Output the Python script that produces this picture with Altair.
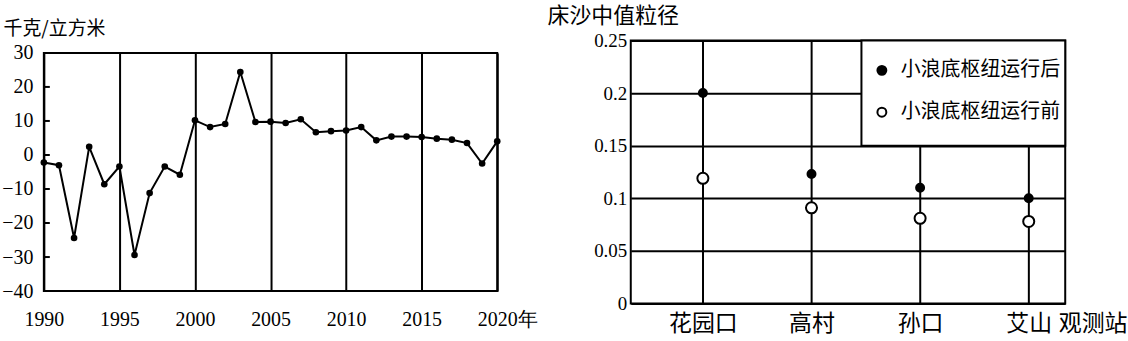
import altair as alt
import pandas as pd

# ---------------- data ----------------
years = list(range(1990, 2021))
density = [-2.2, -3.0, -24.4, 2.4, -8.6, -3.4, -29.4, -11.2, -3.4, -5.8,
           10.2, 8.2, 9.1, 24.4, 9.7, 9.8, 9.4, 10.5, 6.7, 7.0,
           7.2, 8.2, 4.3, 5.4, 5.4, 5.3, 4.8, 4.5, 3.5, -2.5, 4.0]
year_ticks = [1990, 1995, 2000, 2005, 2010, 2015, 2020]
density_ticks = [-40, -30, -20, -10, 0, 10, 20, 30]
inner_ticks = [-30, -20, -10, 0, 10, 20]

stations = ["花园口", "高村", "孙口", "艾山"]
after = [0.2, 0.123, 0.11, 0.1]
before = [0.119, 0.091, 0.081, 0.078]
series = ["小浪底枢纽运行后", "小浪底枢纽运行前"]
size_ticks = [0, 0.05, 0.1, 0.15, 0.2, 0.25]

SERIF = "Liberation Serif"
CJK = "Noto Sans CJK SC"

df_left = pd.DataFrame({"year": years, "value": density})
df_ticks = pd.DataFrame({"value": inner_ticks})
df_right = pd.DataFrame({
    "station": stations * 2,
    "series": [series[0]] * len(stations) + [series[1]] * len(stations),
    "value": after + before,
})

# ---------------- left chart ----------------
x_left = alt.X(
    "year:Q",
    scale=alt.Scale(domain=[1990, 2020], nice=False, zero=False),
    axis=alt.Axis(
        values=year_ticks, format="d",
        labelExpr="datum.value == 2020 ? '2020年' : datum.label",
        labelOffset={"condition": {"test": "datum.value == 2020", "value": 10}, "value": 0},
        grid=True, labelPadding=19, title=None, labelFont=SERIF,
    ),
)
y_left = alt.Y(
    "value:Q",
    scale=alt.Scale(domain=[-40, 30], nice=False, zero=False),
    axis=alt.Axis(
        values=density_ticks, format="d", grid=False, labelPadding=11,
        labelFont=SERIF,
        title="千克/立方米", titleAngle=0, titleX=-41, titleY=-24,
        titleAlign="left", titleBaseline="middle", titleFontSize=19,
    ),
)
line_l = alt.Chart(df_left).mark_line(color="black", strokeWidth=2).encode(x=x_left, y=y_left)
pts_l = alt.Chart(df_left).mark_circle(color="black", size=44, opacity=1).encode(
    x=x_left, y=y_left)
ticks_l = alt.Chart(df_ticks).mark_rule(color="black", strokeWidth=2).encode(
    y=y_left, x=alt.value(0), x2=alt.value(6))
left = alt.layer(line_l, pts_l, ticks_l).properties(width=455, height=239)

# ---------------- right chart ----------------
x_right = alt.X(
    "station:N", sort=stations,
    scale=alt.Scale(type="point", paddingOuter=0.762, align=0.664),
    axis=alt.Axis(
        grid=True, labelAngle=0, labelFont=CJK, labelFontSize=23, labelPadding=9,
        title="观测站", titleX=429, titleY=9, titleAlign="left", titleBaseline="top",
        titleFontSize=23,
    ),
)
y_right = alt.Y(
    "value:Q",
    scale=alt.Scale(domain=[0, 0.25], nice=False, zero=True),
    axis=alt.Axis(
        values=size_ticks, format="~g", grid=True, labelFontSize=19, labelPadding=4,
        labelFont=SERIF,
        title="床沙中值粒径", titleAngle=0, titleX=-84, titleY=-25,
        titleAlign="left", titleBaseline="middle", titleFontSize=22,
    ),
)
box = alt.Chart(pd.DataFrame({"a": [0]})).mark_rect(
    fill="white", stroke="black", strokeWidth=2, opacity=1).encode(
    x=alt.value(231.5), x2=alt.value(436), y=alt.datum(0.25), y2=alt.datum(0.15))
pts_r = alt.Chart(df_right).mark_point(
    shape="circle", filled=True, stroke="black", strokeWidth=2, opacity=1).encode(
    x=x_right, y=y_right,
    fill=alt.Fill("series:N", scale=alt.Scale(domain=series, range=["black", "white"]),
                  legend=alt.Legend(
                      title=None, orient="none", legendX=242, legendY=20, padding=0,
                      rowPadding=22, labelOffset=9, symbolType="circle", symbolSize=80,
                      symbolStrokeColor="black", symbolStrokeWidth=2, symbolOpacity=1,
                      labelFont=CJK, labelFontSize=20, labelColor="black", zindex=1,
                      labelLimit=300)),
    size=alt.condition(alt.datum.series == series[0], alt.value(64), alt.value(123)),
)
right = alt.layer(box, pts_r).properties(width=436, height=264)

chart = alt.hconcat(left, right, spacing=134, bounds="flush", center=True).resolve_legend(
    fill="independent"
).configure_view(stroke="black", strokeWidth=2).configure_axis(
    labelFontSize=20, labelColor="black", labelOverlap=False,
    labelFlush=False, labelBound=False, ticks=False, domain=False,
    gridColor="black", gridWidth=2, gridOpacity=1,
    titleFont=CJK, titleFontWeight="normal", titleColor="black",
).properties(
    padding={"left": 0, "top": 3, "right": 0, "bottom": 0}, background="white"
)

chart.save("out.html", embed_options={"renderer": "svg", "actions": False})
